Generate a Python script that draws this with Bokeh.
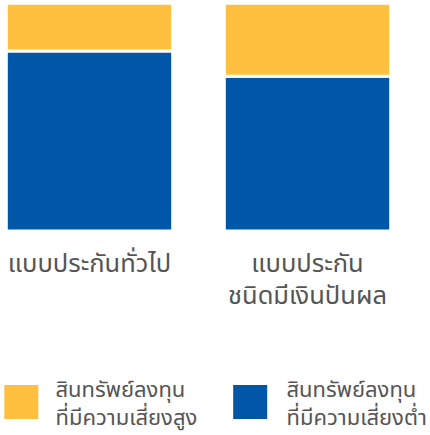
from bokeh.plotting import figure
from bokeh.models import Range1d, ColumnDataSource
from bokeh.core.properties import value
from bokeh.embed import file_html
from bokeh.resources import INLINE

categories = ["แบบประกันทั่วไป", "แบบประกัน\nชนิดมีเงินปันผล"]
high_risk = [21, 32]
low_risk = [79, 68]
series_labels = ["สินทรัพย์ลงทุน\nที่มีความเสี่ยงสูง", "สินทรัพย์ลงทุน\nที่มีความเสี่ยงต่ำ"]
colors = ["#FFC03F", "#0056A7"]

W, H = 430, 435
FONT = value("Noto Sans Thai, Noto Sans, sans-serif")
TEXT_COLOR = "#555555"

p = figure(width=W, height=H, output_backend="svg", toolbar_location=None,
           x_range=Range1d(-0.4083, 1.5642), y_range=Range1d(-89.81, 101.23),
           min_border=0, tools="")
p.extra_y_ranges = {"px": Range1d(H, 0)}
p.extra_x_ranges = {"pxx": Range1d(0, W)}
p.axis.visible = False
p.grid.visible = False
p.outline_line_color = None
p.background_fill_color = None
p.border_fill_color = None

idx = list(range(len(categories)))
tops = [l + h for l, h in zip(low_risk, high_risk)]
src = ColumnDataSource(dict(x=idx, low=list(low_risk), top=tops, zero=[0] * len(idx),
                            label=categories))
bw = 166.4 / 218
p.vbar(x="x", bottom="zero", top="low", width=bw, source=src,
       fill_color=colors[1], line_color="white", line_width=3)
p.vbar(x="x", bottom="low", top="top", width=bw, source=src,
       fill_color=colors[0], line_color="white", line_width=3)

p.text(x="x", y=244.5, text="label", source=src, y_range_name="px",
       text_align="center", text_baseline="top", text_font=FONT,
       text_font_size="25.5px", text_color=TEXT_COLOR, text_line_height=0.84)

# legend
lx_sq = [20.8, 249.7]
lx_tx = [55, 286]
leg = ColumnDataSource(dict(xs=lx_sq, xt=lx_tx, c=colors, t=series_labels))
p.rect(x="xs", y=401.5, width=34, height=34, source=leg, fill_color="c",
       line_color=None, x_range_name="pxx", y_range_name="px")
p.text(x="xt", y=373, text="t", source=leg, x_range_name="pxx", y_range_name="px",
       text_align="left", text_baseline="top", text_font=FONT,
       text_font_size="22px", text_color=TEXT_COLOR, text_line_height=0.86)

open("out.html", "w").write(file_html(p, INLINE))
